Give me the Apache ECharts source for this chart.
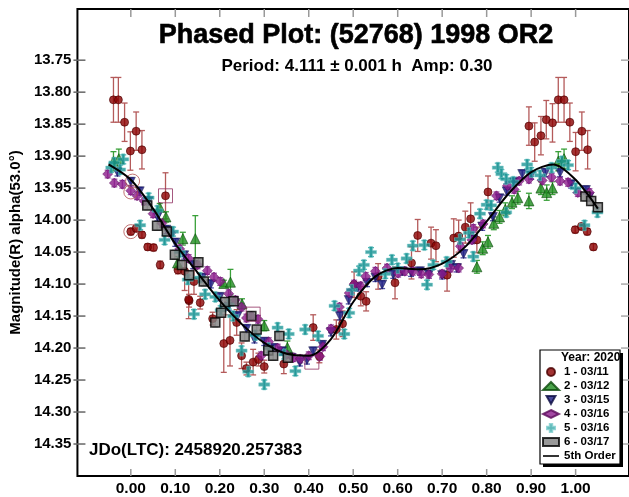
<!DOCTYPE html>
<html>
<head>
<meta charset="utf-8">
<script src="https://cdn.jsdelivr.net/npm/echarts@6/dist/echarts.min.js"></script>
<style>
  html, body { margin: 0; padding: 0; background: #fff; }
  #main { width: 629px; height: 497px; }
</style>
</head>
<body>
<div id="main"></div>
<script>
// axis range and tick labels
var X_MIN = -0.12, X_MAX = 1.12;
var Y_MIN = 13.67, Y_MAX = 14.40;
var X_TICKS = [0.00, 0.10, 0.20, 0.30, 0.40, 0.50, 0.60, 0.70, 0.80, 0.90, 1.00];
var Y_TICKS = [13.75, 13.80, 13.85, 13.90, 13.95, 14.00, 14.05, 14.10, 14.15, 14.20, 14.25, 14.30, 14.35];

// session 1 - 03/11 : [phase, mag, err]
var S1 = [
  [-0.039, 13.812, 0.035], [-0.028, 13.812, 0.035], [-0.014, 13.847, 0.03], [0.012, 13.861, 0.03],
  [-0.001, 13.892, 0.03], [0.025, 13.890, 0.03], [0.078, 13.962, 0.036], [0.000, 14.018, 0.005],
  [0.012, 14.013, 0.005], [0.025, 14.023, 0.005], [0.038, 14.042, 0.005], [0.051, 14.043, 0.005],
  [0.066, 14.070, 0.006], [0.106, 14.078, 0.006], [0.121, 14.080, 0.03], [0.131, 14.126, 0.01],
  [0.156, 14.129, 0.01], [0.184, 14.154, 0.01], [0.142, 14.096, 0.02], [0.130, 14.124, 0.03],
  [0.209, 14.193, 0.045], [0.223, 14.188, 0.04], [0.238, 14.160, 0.02], [0.249, 14.212, 0.02],
  [0.260, 14.232, 0.01], [0.275, 14.222, 0.02], [0.287, 14.218, 0.01], [0.300, 14.229, 0.01],
  [0.344, 14.225, 0.015], [0.410, 14.168, 0.02], [0.424, 14.213, 0.01], [0.462, 14.171, 0.015],
  [0.476, 14.162, 0.02], [0.502, 14.101, 0.02], [0.517, 14.119, 0.015], [0.529, 14.127, 0.015],
  [0.556, 14.088, 0.02], [0.594, 14.098, 0.025], [0.631, 14.067, 0.025], [0.645, 14.024, 0.025],
  [0.675, 14.036, 0.025], [0.686, 14.040, 0.025], [0.711, 14.086, 0.025], [0.726, 14.028, 0.03],
  [0.737, 14.025, 0.025], [0.752, 14.011, 0.025], [0.764, 13.998, 0.025], [0.778, 14.031, 0.02],
  [0.803, 13.956, 0.025], [0.895, 13.853, 0.03], [0.908, 13.878, 0.03], [0.922, 13.868, 0.03],
  [0.934, 13.843, 0.03], [0.948, 13.848, 0.03], [0.961, 13.812, 0.035], [0.974, 13.812, 0.035],
  [0.987, 13.847, 0.03], [1.000, 13.893, 0.03], [1.014, 13.861, 0.03], [1.027, 13.890, 0.03],
  [0.999, 14.015, 0.005], [1.013, 14.010, 0.005], [1.026, 14.018, 0.005], [1.040, 14.042, 0.005]
];

// session 2 - 03/12
var S2 = [
  [-0.039, 13.908, 0.015], [-0.027, 13.904, 0.015], [0.065, 13.980, 0.006], [0.079, 13.995, 0.008],
  [0.117, 14.029, 0.01], [0.145, 14.029, 0.036], [0.105, 14.067, 0.01], [0.209, 14.099, 0.005],
  [0.224, 14.097, 0.02], [0.250, 14.131, 0.008], [0.300, 14.165, 0.008], [0.352, 14.199, 0.01],
  [0.778, 14.073, 0.01], [0.791, 14.044, 0.01], [0.803, 14.034, 0.01], [0.816, 14.005, 0.01],
  [0.829, 13.995, 0.01], [0.842, 13.983, 0.01], [0.857, 13.972, 0.01], [0.870, 13.965, 0.01],
  [0.895, 13.970, 0.012], [0.922, 13.950, 0.01], [0.935, 13.957, 0.012], [0.948, 13.950, 0.01],
  [0.961, 13.908, 0.015], [0.974, 13.904, 0.015]
];

// session 3 - 03/15
var S3 = [
  [-0.030, 13.925], [0.000, 13.940], [0.020, 13.955], [0.040, 13.970], [0.060, 13.995], [0.080, 14.015],
  [0.100, 14.035], [0.120, 14.055], [0.140, 14.070], [0.160, 14.090], [0.180, 14.100], [0.200, 14.120],
  [0.220, 14.135], [0.240, 14.150], [0.260, 14.170], [0.278, 14.186], [0.300, 14.190], [0.320, 14.200],
  [0.340, 14.205], [0.360, 14.215], [0.380, 14.222], [0.396, 14.219], [0.410, 14.205], [0.430, 14.195],
  [0.450, 14.175], [0.470, 14.150], [0.490, 14.125], [0.510, 14.105], [0.531, 14.098], [0.550, 14.090],
  [0.565, 14.101], [0.590, 14.085], [0.610, 14.080], [0.630, 14.082], [0.650, 14.080], [0.670, 14.085],
  [0.700, 14.086], [0.720, 14.070], [0.733, 14.075], [0.748, 14.053], [0.770, 14.030], [0.790, 14.010],
  [0.814, 13.995], [0.829, 13.966], [0.845, 13.955], [0.862, 13.941], [0.880, 13.928], [0.900, 13.930],
  [0.932, 13.926], [0.965, 13.926], [0.990, 13.944], [1.023, 13.953], [1.031, 13.964]
];

// session 4 - 03/16
var S4 = [
  [-0.052, 13.928], [-0.037, 13.942], [-0.019, 13.944], [0.000, 13.954], [0.014, 13.962], [0.030, 13.970],
  [0.050, 13.990], [0.070, 14.005], [0.090, 14.020], [0.110, 14.045], [0.130, 14.060], [0.150, 14.070],
  [0.172, 14.079], [0.187, 14.089], [0.201, 14.096], [0.220, 14.115], [0.235, 14.125], [0.249, 14.136],
  [0.260, 14.153], [0.271, 14.150], [0.286, 14.155], [0.293, 14.212], [0.310, 14.190], [0.330, 14.200],
  [0.350, 14.210], [0.366, 14.215], [0.381, 14.217], [0.400, 14.212], [0.425, 14.213], [0.432, 14.198],
  [0.450, 14.170], [0.469, 14.136], [0.491, 14.114], [0.502, 14.100], [0.517, 14.103], [0.528, 14.088],
  [0.550, 14.080], [0.576, 14.075], [0.601, 14.083], [0.616, 14.080], [0.634, 14.080], [0.653, 14.084],
  [0.670, 14.085], [0.700, 14.084], [0.719, 14.075], [0.737, 14.075], [0.741, 14.041], [0.767, 14.031],
  [0.770, 14.013], [0.792, 14.006], [0.822, 13.962], [0.847, 13.946], [0.862, 13.952], [0.873, 13.939],
  [0.895, 13.936], [0.925, 13.938], [0.946, 13.933], [0.965, 13.939], [0.983, 13.941], [1.005, 13.957],
  [1.031, 13.957]
];

// session 5 - 03/16
var S5 = [
  [-0.044, 13.918], [-0.037, 13.910], [-0.024, 13.921], [-0.017, 13.905], [0.021, 14.008], [0.040, 13.965],
  [0.060, 13.985], [0.076, 14.031], [0.095, 14.018], [0.110, 14.050], [0.128, 14.093], [0.142, 14.147],
  [0.155, 14.090], [0.167, 14.116], [0.190, 14.120], [0.202, 14.141], [0.220, 14.132], [0.230, 14.150],
  [0.249, 14.204], [0.264, 14.237], [0.280, 14.180], [0.300, 14.257], [0.310, 14.200], [0.330, 14.168],
  [0.345, 14.210], [0.355, 14.178], [0.370, 14.236], [0.392, 14.171], [0.421, 14.181], [0.458, 14.134],
  [0.480, 14.178], [0.491, 14.145], [0.497, 14.109], [0.513, 14.079], [0.524, 14.070], [0.540, 14.050],
  [0.572, 14.084], [0.587, 14.062], [0.600, 14.075], [0.620, 14.060], [0.634, 14.040], [0.660, 14.039],
  [0.666, 14.101], [0.680, 14.070], [0.710, 14.065], [0.740, 14.030], [0.760, 14.020], [0.770, 14.057],
  [0.785, 13.990], [0.800, 13.976], [0.810, 13.977], [0.825, 13.918], [0.833, 13.928], [0.844, 13.936],
  [0.844, 13.988], [0.860, 13.940], [0.891, 13.913], [0.900, 13.925], [0.920, 13.930], [0.946, 13.918],
  [0.969, 13.908], [0.983, 13.914], [1.000, 13.950], [1.020, 14.008], [1.049, 13.988]
];

// session 6 - 03/17
var S6 = [
  [0.037, 13.977], [0.059, 14.009], [0.081, 14.018], [0.099, 14.054], [0.115, 14.070], [0.131, 14.086],
  [0.152, 14.066], [0.164, 14.096], [0.190, 14.160], [0.203, 14.145], [0.212, 14.128], [0.231, 14.127],
  [0.256, 14.182], [0.271, 14.150], [0.283, 14.171], [0.309, 14.204], [0.320, 14.212], [0.334, 14.181],
  [0.353, 14.215], [1.022, 13.963], [1.035, 13.970], [1.050, 13.980]
];

// 5th order fit
var FIT_X = [-0.05, 0.00, 0.05, 0.10, 0.15, 0.20, 0.25, 0.30, 0.35, 0.40, 0.45, 0.50,
             0.55, 0.60, 0.65, 0.70, 0.75, 0.80, 0.85, 0.90, 0.95, 1.00, 1.05];
var FIT_Y = [13.913, 13.937, 13.982, 14.037, 14.082, 14.126, 14.163, 14.192, 14.209, 14.212, 14.186, 14.128,
             14.088, 14.075, 14.077, 14.068, 14.043, 14.002, 13.958, 13.925, 13.913, 13.937, 13.982];

// highlighted points (hollow marks)
var RINGS = [[0.000, 14.018], [0.004, 13.939], [0.000, 13.956]];
var BOXES = [[0.078, 13.962], [0.275, 14.147], [0.407, 14.222]];

var FONT = '"Liberation Sans", Arial, sans-serif';
var PLUS = 'path://M3.5,0H6.5V3.5H10V6.5H6.5V10H3.5V6.5H0V3.5H3.5Z';
var DOWN = 'path://M0,0H10L5,9Z';

var chart = echarts.init(document.getElementById('main'), null, { renderer: 'canvas' });

function errBars(pts, defErr, color) {
  return {
    type: 'custom',
    name: 'err',
    silent: true,
    z: 1,
    data: pts.map(function (p) {
      var e = p.length > 2 ? p[2] : defErr;
      return [p[0], p[1] - e, p[1] + e];
    }),
    renderItem: function (params, api) {
      var x = api.value(0);
      var a = api.coord([x, api.value(1)]);
      var b = api.coord([x, api.value(2)]);
      var st = { stroke: color, lineWidth: 1.3 };
      return {
        type: 'group',
        children: [
          { type: 'line', shape: { x1: a[0], y1: a[1], x2: b[0], y2: b[1] }, style: st },
          { type: 'line', shape: { x1: a[0] - 3, y1: a[1], x2: a[0] + 3, y2: a[1] }, style: st },
          { type: 'line', shape: { x1: b[0] - 3, y1: b[1], x2: b[0] + 3, y2: b[1] }, style: st }
        ]
      };
    }
  };
}

// frame tick marks, placed through the axis scales
function yTickMarks() {
  return {
    type: 'custom', name: 'yticks', silent: true, z: 5, clip: false,
    data: Y_TICKS.map(function (v) { return [X_MIN, v]; }),
    renderItem: function (params, api) {
      var l = api.coord([X_MIN, api.value(1)]);
      var r = api.coord([X_MAX, api.value(1)]);
      return {
        type: 'group',
        children: [
          { type: 'line', shape: { x1: l[0] - 4, y1: l[1], x2: l[0] + 8, y2: l[1] }, style: { stroke: '#666', lineWidth: 1.5 } },
          { type: 'line', shape: { x1: r[0] - 8, y1: r[1], x2: r[0], y2: r[1] }, style: { stroke: '#aaa', lineWidth: 1.5 } }
        ]
      };
    }
  };
}

function xTickMarks() {
  return {
    type: 'custom', name: 'xticks', silent: true, z: 5, clip: false,
    data: X_TICKS.map(function (v) { return [v, Y_MAX]; }),
    renderItem: function (params, api) {
      var b = api.coord([api.value(0), Y_MAX]);
      var t = api.coord([api.value(0), Y_MIN]);
      return {
        type: 'group',
        children: [
          { type: 'line', shape: { x1: b[0], y1: b[1] - 7, x2: b[0], y2: b[1] }, style: { stroke: '#999', lineWidth: 1.5 } },
          { type: 'line', shape: { x1: t[0], y1: t[1], x2: t[0], y2: t[1] + 8 }, style: { stroke: '#999', lineWidth: 1.5 } }
        ]
      };
    }
  };
}

function pts(arr) {
  return arr.map(function (p) { return [p[0], p[1]]; });
}

var NAMES = ['1 - 03/11', '2 - 03/12', '3 - 03/15', '4 - 03/16', '5 - 03/16', '6 - 03/17', '5th Order'];

var option = {
  backgroundColor: '#fff',
  animation: false,
  textStyle: { fontFamily: FONT },
  grid: {
    left: 72, top: 9, width: 563, height: 471,
    show: true, borderColor: '#000', borderWidth: 2, backgroundColor: '#fff'
  },
  xAxis: {
    type: 'value', min: X_MIN, max: X_MAX, position: 'bottom',
    axisLine: { show: false, onZero: false },
    axisTick: { show: false },
    axisLabel: {
      customValues: X_TICKS, margin: 5, color: '#000', fontSize: 15.5, fontWeight: 'bold', fontFamily: FONT,
      formatter: function (v) { return v.toFixed(2); }
    },
    splitLine: { show: false }
  },
  yAxis: {
    type: 'value', inverse: true, min: Y_MIN, max: Y_MAX, position: 'left',
    axisLine: { show: false, onZero: false },
    axisTick: { show: false },
    axisLabel: {
      customValues: Y_TICKS, margin: 6, color: '#000', fontSize: 15, fontWeight: 'bold', fontFamily: FONT,
      formatter: function (v) { return v.toFixed(2); }
    },
    splitLine: { show: false },
    name: 'Magnitude(R) alpha(53.0°)',
    nameLocation: 'middle',
    nameGap: 50,
    nameTextStyle: { color: '#000', fontSize: 15, fontWeight: 'bold', fontFamily: FONT }
  },
  legend: {
    orient: 'vertical',
    left: 542, top: 365, z: 80, padding: 0,
    itemWidth: 16, itemHeight: 8, itemGap: 0,
    selectedMode: false,
    textStyle: { color: '#000', fontSize: 11.5, fontWeight: 'bold', fontFamily: FONT, lineHeight: 14 },
    data: [
      { name: NAMES[0], icon: 'circle' },
      { name: NAMES[1], icon: 'triangle' },
      { name: NAMES[2], icon: DOWN },
      { name: NAMES[3], icon: 'diamond' },
      { name: NAMES[4], icon: PLUS },
      { name: NAMES[5], icon: 'rect' },
      { name: NAMES[6], icon: 'path://M0,0H20V2H0Z' }
    ]
  },
  graphic: [
    { type: 'rect', z: 50, shape: { x: 543, y: 353, width: 80, height: 114 }, style: { fill: '#000' } },
    { type: 'rect', z: 51, shape: { x: 540, y: 350, width: 80, height: 114 }, style: { fill: '#fff', stroke: '#000', lineWidth: 1.2 } },
    { type: 'text', z: 52, style: { text: 'Year: 2020', x: 561, y: 358, fill: '#000', font: 'bold 12px ' + FONT, verticalAlign: 'middle' } },
    { type: 'text', z: 60, style: { text: 'Phased Plot: (52768) 1998 OR2', x: 356, y: 36, fill: '#000', stroke: '#000', lineWidth: 0.6,
      font: 'bold 27px ' + FONT, align: 'center', verticalAlign: 'middle' } },
    { type: 'text', z: 60, style: { text: 'Period: 4.111 ± 0.001 h  Amp: 0.30', x: 357, y: 66, fill: '#000',
      font: 'bold 17px ' + FONT, align: 'center', verticalAlign: 'middle' } },
    { type: 'text', z: 60, style: { text: 'JDo(LTC): 2458920.257383', x: 89, y: 450, fill: '#000',
      font: 'bold 17px ' + FONT, verticalAlign: 'middle' } }
  ],
  series: [
    yTickMarks(),
    xTickMarks(),
    errBars(S1, 0.03, '#b45a5a'),
    errBars(S2, 0.012, '#3aa03a'),
    errBars(S3, 0.006, '#5050a8'),
    errBars(S4, 0.006, '#a050a8'),
    errBars(S5, 0.007, '#48b4b4'),
    errBars(S6, 0.007, '#b8b8b8'),
    { name: NAMES[0], type: 'scatter', z: 3, data: pts(S1), symbol: 'circle', symbolSize: 8,
      itemStyle: { color: '#8b0000', borderColor: '#4a0000', borderWidth: 0.8 } },
    { name: NAMES[1], type: 'scatter', z: 3, data: pts(S2), symbol: 'triangle', symbolSize: 10,
      itemStyle: { color: '#1e8c1e', borderColor: '#0b4a0b', borderWidth: 0.8 } },
    { name: NAMES[2], type: 'scatter', z: 3, data: pts(S3), symbol: DOWN, symbolSize: 9,
      itemStyle: { color: '#1a1a80', borderColor: '#0a0a40', borderWidth: 0.6 } },
    { name: NAMES[3], type: 'scatter', z: 3, data: pts(S4), symbol: 'diamond', symbolSize: 10,
      itemStyle: { color: '#8b1a8b', borderColor: '#5a0a5a', borderWidth: 0.6 } },
    { name: NAMES[4], type: 'scatter', z: 3, data: pts(S5), symbol: PLUS, symbolSize: 11,
      itemStyle: { color: '#1a9494', borderColor: '#7acaca', borderWidth: 0.6 } },
    { name: NAMES[5], type: 'scatter', z: 3, data: pts(S6), symbol: 'rect', symbolSize: 9,
      itemStyle: { color: '#808080', borderColor: '#000', borderWidth: 1.5 } },
    { name: 'rings', type: 'scatter', z: 3, silent: true, data: RINGS, symbol: 'circle', symbolSize: 14,
      itemStyle: { color: 'rgba(0,0,0,0)', borderColor: '#b05050', borderWidth: 1 } },
    { name: 'boxes', type: 'scatter', z: 3, silent: true, data: BOXES, symbol: 'rect', symbolSize: 14,
      itemStyle: { color: 'rgba(0,0,0,0)', borderColor: '#903060', borderWidth: 1 } },
    { name: NAMES[6], type: 'line', z: 4, smooth: 0.3, showSymbol: false,
      data: FIT_X.map(function (x, i) { return [x, FIT_Y[i]]; }),
      lineStyle: { color: '#000', width: 2 }, itemStyle: { color: '#000' } }
  ]
};

chart.setOption(option);
</script>
</body>
</html>
